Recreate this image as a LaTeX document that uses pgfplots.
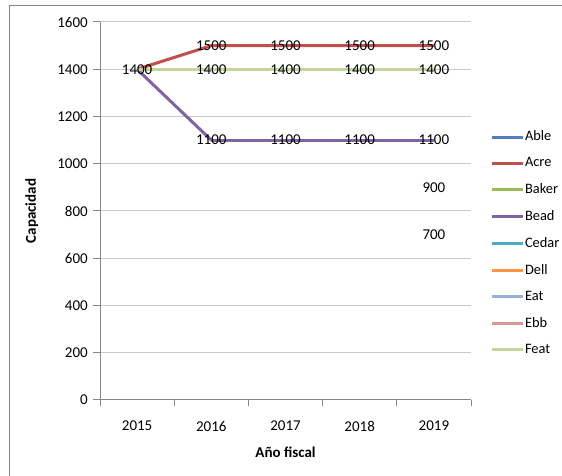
\documentclass[border=0pt]{standalone}
\usepackage{fontspec}
\setmainfont{Carlito}
\usepackage{pgfplots}
\pgfplotsset{compat=1.18}
\definecolor{cAble}{HTML}{4F81BD}
\definecolor{cAcre}{HTML}{C0504D}
\definecolor{cBaker}{HTML}{9BBB59}
\definecolor{cBead}{HTML}{8064A2}
\definecolor{cCedar}{HTML}{4BACC6}
\definecolor{cDell}{HTML}{F79646}
\definecolor{cEat}{HTML}{95B3D7}
\definecolor{cEbb}{HTML}{D99694}
\definecolor{cFeat}{HTML}{C3D69B}
\definecolor{axgray}{HTML}{868686}
\definecolor{grgray}{HTML}{C8C8C8}
\newcommand{\chartfont}{\fontsize{15bp}{18bp}\selectfont}
\begin{document}
\chartfont
\begin{tikzpicture}
\useasboundingbox (0,0) rectangle (562bp,476bp);
\draw[axgray, line width=1bp] (9bp,0) -- (9bp,470bp) -- (562bp,470bp);
\begin{axis}[
    at={(100bp,76bp)}, anchor=south west,
    scale only axis,
    width=371bp, height=378bp,
    xmin=-0.5, xmax=4.5,
    ymin=0, ymax=1600,
    xtick={0,1,2,3,4},
    xticklabels={2015,2016,2017,2018,2019},
    minor xtick={-0.5,0.5,1.5,2.5,3.5,4.5},
    ytick={0,200,...,1600},
    axis lines=left,
    axis line style={-, draw=axgray, line width=1bp},
    tick align=outside,
    tick pos=left,
    major tick length=7bp,
    minor tick length=6bp,
    major x tick style={draw=none},
    minor x tick style={draw=axgray, line width=1bp},
    ytick style={draw=axgray, line width=1bp},
    ymajorgrids,
    grid style={draw=grgray, line width=1bp},
    /pgf/number format/assume math mode=true,
    /pgf/number format/1000 sep={},
    ticklabel style={font=\chartfont, text=black},
    xticklabel style={yshift=-9bp},
    xlabel={\textbf{Año fiscal}},
    ylabel={\textbf{Capacidad}},
    label style={font=\chartfont},
    xlabel style={yshift=-5bp},
    ylabel style={yshift=9bp},
    every node near coord/.append style={anchor=center, text=black, font=\chartfont},
    legend style={at={(1.044,0.719)}, anchor=north west, draw=none, fill=none,
        font=\fontsize{14.4bp}{17bp}\selectfont, row sep=13.6bp,
        nodes={inner sep=0.5bp}},
    legend cell align=left,
    legend image code/.code={\draw[#1] (0bp,0bp) -- (31bp,0bp);},
]
\addplot[cAble, line width=3bp] coordinates {(0,1400) (1,1400) (2,1400) (3,1400) (4,1400)};
\addplot[cAcre, line width=3bp, nodes near coords] coordinates {(0,1400) (1,1500) (2,1500) (3,1500) (4,1500)};
\addplot[cBaker, line width=3bp] coordinates {(0,1400) (1,1400) (2,1400) (3,1400) (4,1400)};
\addplot[cBead, line width=3bp] coordinates {(0,1400) (1,1100)};
\addplot[cBead, line width=3bp, nodes near coords, forget plot] coordinates {(1,1100) (2,1100) (3,1100) (4,1100)};
\addplot[cCedar, line width=3bp, nodes near coords] coordinates {(4,900)};
\addplot[cDell, line width=3bp, nodes near coords] coordinates {(4,700)};
\addplot[cEat, line width=3bp] coordinates {(4,900)};
\addplot[cEbb, line width=3bp] coordinates {(4,700)};
\addplot[cFeat, line width=3bp, nodes near coords] coordinates {(1,1400) (2,1400) (3,1400) (4,1400)};
\addplot[cFeat, line width=3bp, forget plot] coordinates {(0,1400) (1,1400)};
\legend{Able,Acre,Baker,Bead,Cedar,Dell,Eat,Ebb,Feat}
\end{axis}
\end{tikzpicture}
\end{document}
